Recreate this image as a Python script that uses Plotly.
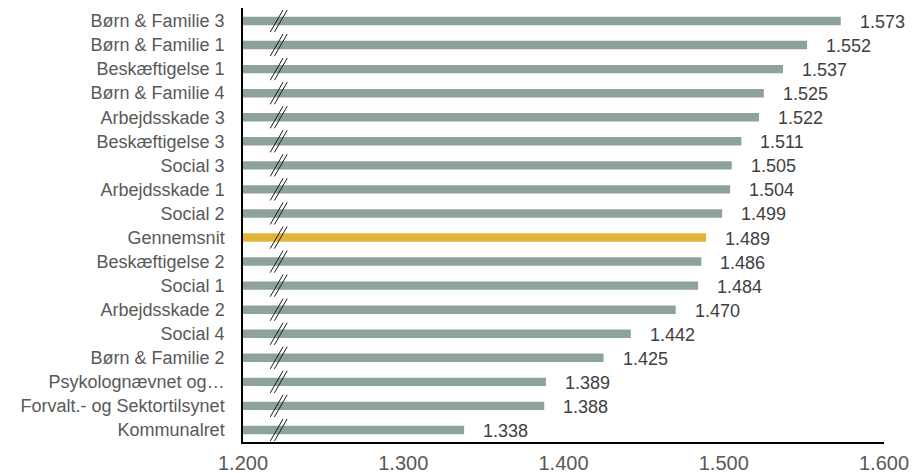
import plotly.graph_objects as go

categories = ["Børn & Familie 3", "Børn & Familie 1", "Beskæftigelse 1", "Børn & Familie 4",
              "Arbejdsskade 3", "Beskæftigelse 3", "Social 3", "Arbejdsskade 1", "Social 2",
              "Gennemsnit", "Beskæftigelse 2", "Social 1", "Arbejdsskade 2", "Social 4",
              "Børn & Familie 2", "Psykolognævnet og…", "Forvalt.- og Sektortilsynet", "Kommunalret"]
values = [1573, 1552, 1537, 1525, 1522, 1511, 1505, 1504, 1499, 1489, 1486, 1484, 1470, 1442,
          1425, 1389, 1388, 1338]
highlight = "Gennemsnit"
x_min, x_max = 1200, 1600
tick_vals = [1200, 1300, 1400, 1500, 1600]
break_x = 1221

GREEN = "#8DA399"
GOLD = "#E5B53B"
FONT = "Liberation Sans, Arial"
colors = [GOLD if c == highlight else GREEN for c in categories]

fig = go.Figure()
fig.add_trace(go.Bar(
    y=categories, x=[v - x_min for v in values], base=x_min, orientation="h",
    marker=dict(color=colors, line=dict(width=0)),
    hoverinfo="skip",
))

for c, v in zip(categories, values):
    fig.add_annotation(x=v, y=c, text=f"{v:,}".replace(",", "."), showarrow=False,
                       xanchor="left", xshift=17, yshift=-1,
                       font=dict(family=FONT, size=18, color="#404040"))

# axis-break marks
for i, c in enumerate(categories):
    for off in (0, 2.6):
        fig.add_shape(type="line", xref="x", yref="y",
                      x0=break_x - 4 + off, y0=i + 0.46, x1=break_x + 4 + off, y1=i - 0.46,
                      line=dict(color="#1a1a1a", width=1))

fig.update_layout(
    width=915, height=473,
    margin=dict(l=243, r=31, t=8, b=31),
    paper_bgcolor="white", plot_bgcolor="white",
    separators=",.",
    bargap=0.65,
    showlegend=False,
    hovermode=False,
    font=dict(family=FONT, color="#595959"),
)
fig.update_xaxes(range=[x_min, x_max], tickvals=tick_vals,
                 ticktext=[f"{t:,}".replace(",", ".") for t in tick_vals],
                 showgrid=False, zeroline=False, showline=True, linecolor="black", linewidth=1.5,
                 ticks="", ticklabelstandoff=2, automargin=False,
                 tickfont=dict(family=FONT, size=20, color="#595959"))
fig.update_yaxes(autorange="reversed", showgrid=False, zeroline=False, showline=True,
                 linecolor="black", linewidth=1.5, ticks="", ticklabelstandoff=13, automargin=False,
                 tickfont=dict(family=FONT, size=18, color="#595959"))

fig.write_html("out.html", config={"displayModeBar": False},
               post_script="document.body.style.margin='0';document.body.style.overflow='hidden';")
